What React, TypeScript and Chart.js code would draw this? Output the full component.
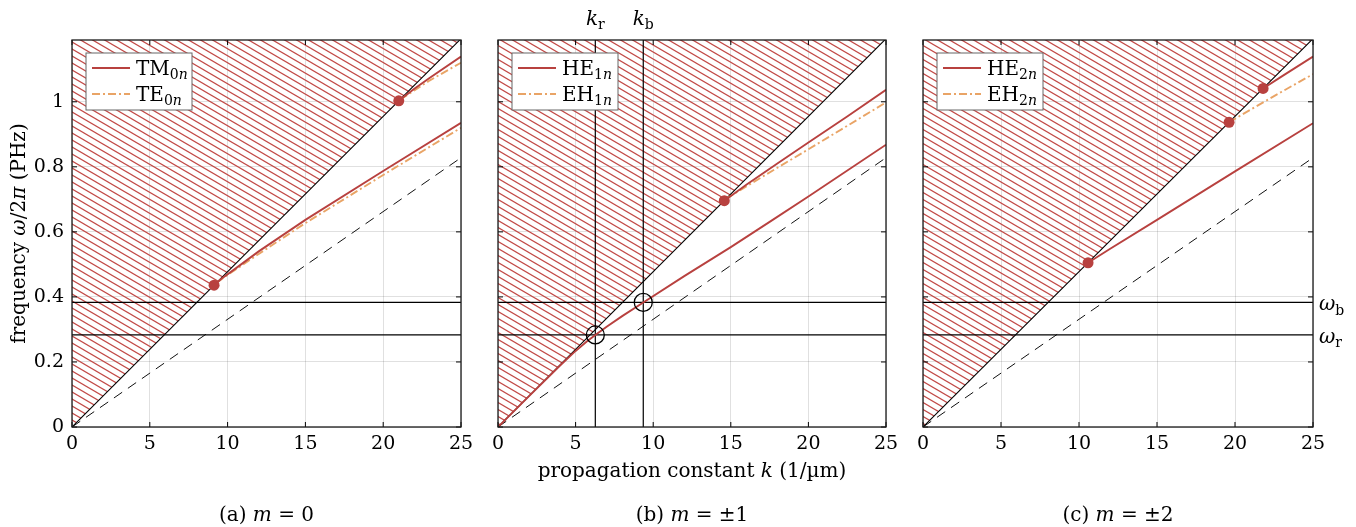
import React, { useEffect, useRef } from "react";
import { Chart, registerables } from "chart.js";
Chart.register(...registerables);

// ---------- data ----------
const K_TICKS = [0, 5, 10, 15, 20, 25];
const F_TICKS = [0, 0.2, 0.4, 0.6, 0.8, 1];
const K_MIN = 0;
const K_MAX = 25;
const F_MIN = 0;
const F_MAX = 1.19;

const LIGHT_K = [0, 25];
const LIGHT_F = [0, 1.194];
const CORE_K = [0, 25];
const CORE_F = [0, 0.828];

const OMEGA_R = 0.283;
const OMEGA_B = 0.383;
const K_R = 6.27;
const K_B = 9.36;

// (a) m = 0
const TM01_K = [9.13, 9.6, 10.5, 12, 15, 20, 25];
const TM01_F = [0.436, 0.456, 0.487, 0.54, 0.637, 0.787, 0.935];
const TE01_K = [9.3, 10, 10.8, 12, 15, 20, 25];
const TE01_F = [0.444, 0.468, 0.493, 0.532, 0.627, 0.775, 0.92];
const TM02_K = [21.0, 22, 23, 25];
const TM02_F = [1.003, 1.04, 1.074, 1.139];
const TE02_K = [21.1, 22, 23, 25];
const TE02_F = [1.007, 1.035, 1.066, 1.12];
const DOTS_A_K = [9.13, 21.0];
const DOTS_A_F = [0.436, 1.003];

// (b) m = ±1
const HE11_K = [0, 2, 4, 5, 5.7, 6.27, 7, 8, 9.36, 12, 15, 17.7, 20, 25];
const HE11_F = [0, 0.095, 0.189, 0.234, 0.262, 0.283, 0.308, 0.341, 0.383, 0.464, 0.553, 0.637, 0.709, 0.868];
const HE12_K = [14.58, 16, 18, 20, 22.5, 25];
const HE12_F = [0.696, 0.745, 0.81, 0.875, 0.955, 1.037];
const EH11_K = [14.7, 16, 18, 20, 22.5, 25];
const EH11_F = [0.702, 0.74, 0.797, 0.854, 0.926, 0.998];
const DOTS_B_K = [14.58];
const DOTS_B_F = [0.696];
const CIRCLES_K = [K_R, K_B];
const CIRCLES_F = [OMEGA_R, OMEGA_B];

// (c) m = ±2
const HE21_K = [10.58, 12, 15, 20, 25];
const HE21_F = [0.505, 0.548, 0.637, 0.786, 0.934];
const EH21_K = [19.62, 21, 23, 25];
const EH21_F = [0.937, 0.976, 1.031, 1.085];
const HE22_K = [21.8, 23, 25];
const HE22_F = [1.041, 1.078, 1.139];
const DOTS_C_K = [10.58, 19.62, 21.8];
const DOTS_C_F = [0.505, 0.937, 1.041];

// ---------- styles ----------
const FONT = "'DejaVu Serif', serif";
const RED = "#b8413f";
const ORANGE = "#e9a466";
const HATCH = "#c24a47";
const GRID = "rgba(0,0,0,0.12)";
const DASHDOT = [8, 3, 2, 3];

type Seg = { t: string; it?: boolean; sub?: boolean };

function pts(ks: number[], fs: number[]) {
  return ks.map((k, i) => ({ x: k, y: fs[i] }));
}

function segFont(s: Seg, size: number) {
  const sz = s.sub ? Math.round(size * 0.7) : size;
  return `${s.it ? "italic " : ""}${sz}px ${FONT}`;
}
function richWidth(ctx: CanvasRenderingContext2D, segs: Seg[], size: number) {
  let w = 0;
  for (const s of segs) {
    ctx.font = segFont(s, size);
    w += ctx.measureText(s.t).width;
  }
  return w;
}
function drawRich(ctx: CanvasRenderingContext2D, segs: Seg[], x: number, y: number, size: number, align: "left" | "center" | "right") {
  const w = richWidth(ctx, segs, size);
  let cx = align === "left" ? x : align === "center" ? x - w / 2 : x - w;
  ctx.textAlign = "left";
  ctx.textBaseline = "alphabetic";
  for (const s of segs) {
    ctx.font = segFont(s, size);
    ctx.fillText(s.t, cx, s.sub ? y + size * 0.22 : y);
    cx += ctx.measureText(s.t).width;
  }
}

function makeHatch(): CanvasPattern | string {
  const c = document.createElement("canvas");
  const w = 12, h = 7;
  c.width = w;
  c.height = h;
  const g = c.getContext("2d");
  if (!g) return HATCH;
  g.strokeStyle = HATCH;
  g.lineWidth = 1.2;
  for (const off of [-h, 0, h]) {
    g.beginPath();
    g.moveTo(-1, off - h / w);
    g.lineTo(w + 1, off + h + h / w);
    g.stroke();
  }
  return g.createPattern(c, "repeat") || HATCH;
}

function lineDs(data: { x: number; y: number }[], color: string, width: number, dash: number[] = []) {
  return {
    data,
    borderColor: color,
    borderWidth: width,
    borderDash: dash,
    pointRadius: 0,
    fill: false,
    tension: 0,
  };
}
function dotDs(data: { x: number; y: number }[]) {
  return {
    data,
    showLine: false,
    pointRadius: 5.5,
    pointBackgroundColor: RED,
    pointBorderColor: RED,
    pointBorderWidth: 0,
    borderWidth: 0,
  };
}

type LegendEntry = { color: string; dash: number[]; segs: Seg[] };

type PanelSpec = {
  left: number;
  width: number;
  yAxisWidth: number;
  padRight: number;
  showYLabels: boolean;
  curves: any[];
  legend: LegendEntry[];
  caption: Seg[];
  extra?: (chart: any, ctx: CanvasRenderingContext2D) => void;
};

function Panel({ spec }: { spec: PanelSpec }) {
  const ref = useRef<HTMLCanvasElement | null>(null);
  useEffect(() => {
    if (!ref.current) return;
    const hatch = makeHatch();
    const datasets: any[] = [
      ...spec.curves,
      lineDs(pts([K_MIN, K_MAX], [OMEGA_B, OMEGA_B]), "#000", 1.2),
      lineDs(pts([K_MIN, K_MAX], [OMEGA_R, OMEGA_R]), "#000", 1.2),
      lineDs(pts(CORE_K, CORE_F), "#111", 1, [10, 7]),
      {
        data: pts(LIGHT_K, LIGHT_F),
        borderColor: "#000",
        borderWidth: 1.1,
        pointRadius: 0,
        tension: 0,
        fill: "end",
        backgroundColor: hatch,
      },
    ];
    const annot = {
      id: "annot",
      afterDraw(chart: any) {
        const ctx: CanvasRenderingContext2D = chart.ctx;
        const a = chart.chartArea;
        const xs = chart.scales.x;
        const ys = chart.scales.y;
        ctx.save();
        ctx.strokeStyle = "#000";
        ctx.lineWidth = 1;
        ctx.setLineDash([]);
        for (const k of K_TICKS) {
          const px = xs.getPixelForValue(k);
          ctx.beginPath();
          ctx.moveTo(px, a.bottom);
          ctx.lineTo(px, a.bottom - 5);
          ctx.moveTo(px, a.top);
          ctx.lineTo(px, a.top + 5);
          ctx.stroke();
        }
        for (const f of F_TICKS) {
          const py = ys.getPixelForValue(f);
          ctx.beginPath();
          ctx.moveTo(a.left, py);
          ctx.lineTo(a.left + 5, py);
          ctx.moveTo(a.right, py);
          ctx.lineTo(a.right - 5, py);
          ctx.stroke();
        }
        ctx.lineWidth = 1.3;
        ctx.strokeStyle = "#1a1a1a";
        ctx.strokeRect(a.left, a.top, a.right - a.left, a.bottom - a.top);

        // legend
        const lx = a.left + 14;
        const ly = a.top + 13;
        const lw = 106;
        const lh = 57;
        ctx.fillStyle = "#fff";
        ctx.fillRect(lx, ly, lw, lh);
        ctx.strokeStyle = "#666";
        ctx.lineWidth = 1;
        ctx.strokeRect(lx, ly, lw, lh);
        spec.legend.forEach((e, i) => {
          const cy = ly + 15 + i * 26;
          ctx.strokeStyle = e.color;
          ctx.lineWidth = 1.8;
          ctx.setLineDash(e.dash);
          ctx.beginPath();
          ctx.moveTo(lx + 6, cy);
          ctx.lineTo(lx + 44, cy);
          ctx.stroke();
          ctx.setLineDash([]);
          ctx.fillStyle = "#000";
          drawRich(ctx, e.segs, lx + 50, cy + 7, 20, "left");
        });

        if (spec.extra) spec.extra(chart, ctx);

        ctx.fillStyle = "#000";
        drawRich(ctx, spec.caption, (a.left + a.right) / 2, 521, 20, "center");
        ctx.restore();
      },
    };
    const chart = new Chart(ref.current, {
      type: "line",
      data: { datasets },
      options: {
        animation: false,
        responsive: false,
        devicePixelRatio: 1,
        events: [],
        layout: { padding: { left: 0, top: 40, right: spec.padRight, bottom: 0 } },
        plugins: { legend: { display: false }, tooltip: { enabled: false } },
        scales: {
          x: {
            type: "linear",
            min: K_MIN,
            max: K_MAX,
            afterBuildTicks: (s: any) => {
              s.ticks = K_TICKS.map((v) => ({ value: v }));
            },
            afterFit: (s: any) => {
              s.height = 100;
            },
            grid: { color: GRID, drawTicks: false, lineWidth: 1 },
            border: { display: false },
            ticks: {
              padding: 6,
              color: "#000",
              autoSkip: false,
              maxRotation: 0,
              font: { family: FONT, size: 19 },
              callback: (v: any) => String(v),
            },
          },
          y: {
            type: "linear",
            min: F_MIN,
            max: F_MAX,
            afterBuildTicks: (s: any) => {
              s.ticks = F_TICKS.map((v) => ({ value: v }));
            },
            afterFit: (s: any) => {
              s.width = spec.yAxisWidth;
            },
            grid: { color: GRID, drawTicks: false, lineWidth: 1 },
            border: { display: false },
            ticks: {
              display: spec.showYLabels,
              padding: 8,
              color: "#000",
              autoSkip: false,
              font: { family: FONT, size: 19 },
              callback: (v: any) => String(Number(Number(v).toFixed(1))),
            },
          },
        },
      } as any,
      plugins: [annot],
    });
    return () => chart.destroy();
  }, []);
  return (
    <canvas
      ref={ref}
      width={spec.width}
      height={527}
      style={{ position: "absolute", left: spec.left, top: 0, width: spec.width, height: 527 }}
    />
  );
}

const SPEC_A: PanelSpec = {
  left: 0,
  width: 480,
  yAxisWidth: 72,
  padRight: 19,
  showYLabels: true,
  curves: [
    dotDs(pts(DOTS_A_K, DOTS_A_F)),
    lineDs(pts(TM01_K, TM01_F), RED, 1.9),
    lineDs(pts(TE01_K, TE01_F), ORANGE, 1.9, DASHDOT),
    lineDs(pts(TM02_K, TM02_F), RED, 1.9),
    lineDs(pts(TE02_K, TE02_F), ORANGE, 1.9, DASHDOT),
  ],
  legend: [
    { color: RED, dash: [], segs: [{ t: "TM" }, { t: "0", sub: true }, { t: "n", sub: true, it: true }] },
    { color: ORANGE, dash: DASHDOT, segs: [{ t: "TE" }, { t: "0", sub: true }, { t: "n", sub: true, it: true }] },
  ],
  caption: [{ t: "(a) " }, { t: "m", it: true }, { t: " = 0" }],
  extra: (chart, ctx) => {
    const a = chart.chartArea;
    ctx.save();
    ctx.translate(25, (a.top + a.bottom) / 2);
    ctx.rotate(-Math.PI / 2);
    ctx.fillStyle = "#000";
    drawRich(ctx, [{ t: "frequency " }, { t: "ω", it: true }, { t: "/2" }, { t: "π", it: true }, { t: " (PHz)" }], 0, 0, 20, "center");
    ctx.restore();
  },
};

const SPEC_B: PanelSpec = {
  left: 480,
  width: 430,
  yAxisWidth: 18,
  padRight: 24,
  showYLabels: false,
  curves: [
    {
      data: pts(CIRCLES_K, CIRCLES_F),
      showLine: false,
      pointRadius: 9,
      pointBackgroundColor: "rgba(0,0,0,0)",
      pointBorderColor: "#000",
      pointBorderWidth: 1.3,
      borderWidth: 0,
    },
    dotDs(pts(DOTS_B_K, DOTS_B_F)),
    lineDs(pts(HE11_K, HE11_F), RED, 1.9),
    lineDs(pts(HE12_K, HE12_F), RED, 1.9),
    lineDs(pts(EH11_K, EH11_F), ORANGE, 1.9, DASHDOT),
    lineDs(pts([K_R, K_R], [F_MIN, F_MAX]), "#000", 1.2),
    lineDs(pts([K_B, K_B], [F_MIN, F_MAX]), "#000", 1.2),
  ],
  legend: [
    { color: RED, dash: [], segs: [{ t: "HE" }, { t: "1", sub: true }, { t: "n", sub: true, it: true }] },
    { color: ORANGE, dash: DASHDOT, segs: [{ t: "EH" }, { t: "1", sub: true }, { t: "n", sub: true, it: true }] },
  ],
  caption: [{ t: "(b) " }, { t: "m", it: true }, { t: " = ±1" }],
  extra: (chart, ctx) => {
    const a = chart.chartArea;
    const xs = chart.scales.x;
    ctx.fillStyle = "#000";
    drawRich(ctx, [{ t: "k", it: true }, { t: "r", sub: true }], xs.getPixelForValue(K_R), 25, 20, "center");
    drawRich(ctx, [{ t: "k", it: true }, { t: "b", sub: true }], xs.getPixelForValue(K_B), 25, 20, "center");
    drawRich(ctx, [{ t: "propagation constant " }, { t: "k", it: true }, { t: " (1/µm)" }], (a.left + a.right) / 2, 477, 20, "center");
  },
};

const SPEC_C: PanelSpec = {
  left: 905,
  width: 451,
  yAxisWidth: 18,
  padRight: 43,
  showYLabels: false,
  curves: [
    dotDs(pts(DOTS_C_K, DOTS_C_F)),
    lineDs(pts(HE21_K, HE21_F), RED, 1.9),
    lineDs(pts(EH21_K, EH21_F), ORANGE, 1.9, DASHDOT),
    lineDs(pts(HE22_K, HE22_F), RED, 1.9),
  ],
  legend: [
    { color: RED, dash: [], segs: [{ t: "HE" }, { t: "2", sub: true }, { t: "n", sub: true, it: true }] },
    { color: ORANGE, dash: DASHDOT, segs: [{ t: "EH" }, { t: "2", sub: true }, { t: "n", sub: true, it: true }] },
  ],
  caption: [{ t: "(c) " }, { t: "m", it: true }, { t: " = ±2" }],
  extra: (chart, ctx) => {
    const a = chart.chartArea;
    const ys = chart.scales.y;
    ctx.fillStyle = "#000";
    drawRich(ctx, [{ t: "ω", it: true }, { t: "b", sub: true }], a.right + 6, ys.getPixelForValue(OMEGA_B) + 8, 20, "left");
    drawRich(ctx, [{ t: "ω", it: true }, { t: "r", sub: true }], a.right + 6, ys.getPixelForValue(OMEGA_R) + 8, 20, "left");
  },
};

export default function App() {
  return (
    <div style={{ position: "absolute", left: 0, top: 0, width: 1356, height: 527, background: "#fff", overflow: "hidden" }}>
      <Panel spec={SPEC_A} />
      <Panel spec={SPEC_B} />
      <Panel spec={SPEC_C} />
    </div>
  );
}
